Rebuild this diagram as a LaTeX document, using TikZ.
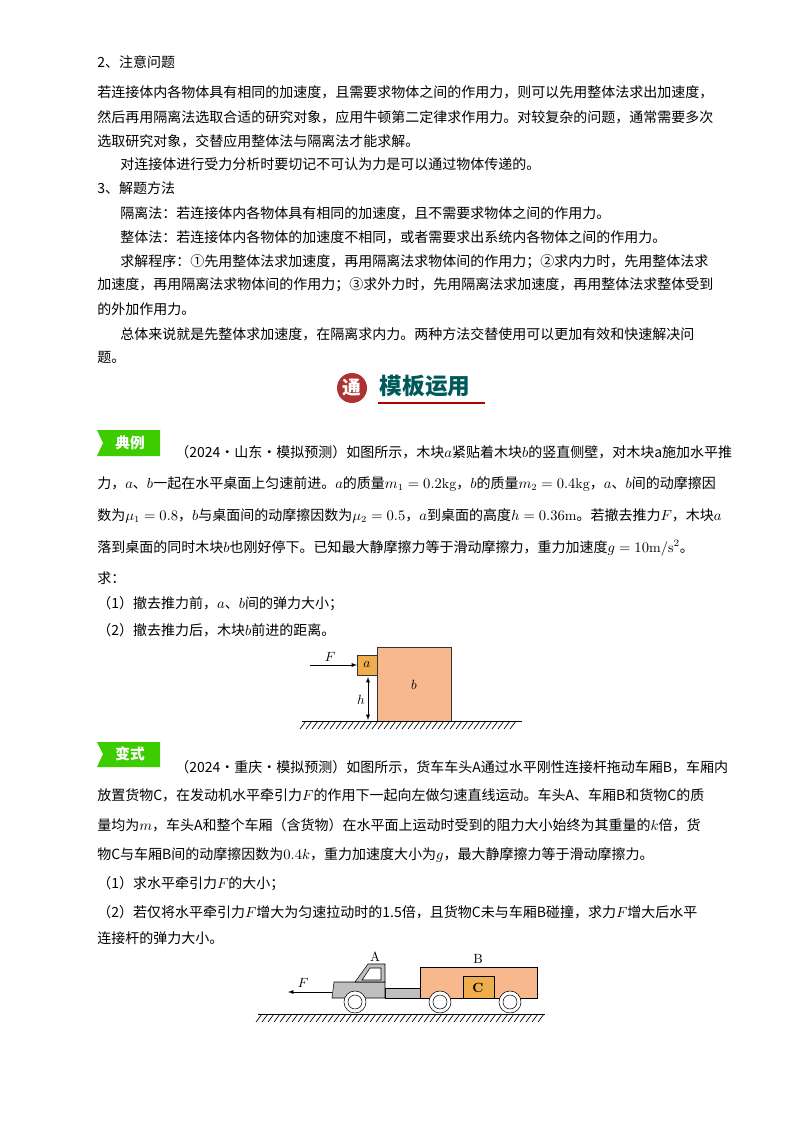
\documentclass[tikz,border=0pt]{standalone}
\usepackage{fontspec}
\newfontfamily\cjk{Noto Sans CJK SC}
\definecolor{peach}{HTML}{F6B88C}
\definecolor{gold}{HTML}{EFAE4E}
\begin{document}
\begin{tikzpicture}[x=0.75pt,y=-0.75pt,
  txt/.style={anchor=west,inner sep=0pt,font=\cjk\fontsize{10.5}{12}\selectfont},
  badge/.style={fill=green!60!lime!80!black,draw=none},
  hatch/.style={line width=0.5pt}]
\useasboundingbox (0,0) rectangle (800,1134);
\fill[white] (0,0) rectangle (800,1134);
\node[txt] (l1) at (97,62) {2、注意问题};
\node[txt] (l2) at (97,92) {若连接体内各物体具有相同的加速度，且需要求物体之间的作用力，则可以先用整体法求出加速度，};
\node[txt] (l3) at (97,117) {然后再用隔离法选取合适的研究对象，应用牛顿第二定律求作用力。对较复杂的问题，通常需要多次};
\node[txt] (l4) at (97,141) {选取研究对象，交替应用整体法与隔离法才能求解。};
\node[txt] (l5) at (120,164) {对连接体进行受力分析时要切记不可认为力是可以通过物体传递的。};
\node[txt] (l6) at (97,188) {3、解题方法};
\node[txt] (l7) at (120,213) {隔离法：若连接体内各物体具有相同的加速度，且不需要求物体之间的作用力。};
\node[txt] (l8) at (120,237) {整体法：若连接体内各物体的加速度不相同，或者需要求出系统内各物体之间的作用力。};
\node[txt] (l9) at (120,262) {求解程序：①先用整体法求加速度，再用隔离法求物体间的作用力；②求内力时，先用整体法求};
\node[txt] (l10) at (97,285) {加速度，再用隔离法求物体间的作用力；③求外力时，先用隔离法求加速度，再用整体法求整体受到};
\node[txt] (l11) at (97,309) {的外加作用力。};
\node[txt] (l12) at (120,334) {总体来说就是先整体求加速度，在隔离求内力。两种方法交替使用可以更加有效和快速解决问};
\node[txt] (l13) at (97,357) {题。};
% banner
\fill[red!60!black!80] (352,388) circle (15);
\node[font=\cjk\bfseries\fontsize{14}{14}\selectfont,text=white] (tong) at (352,388) {通};
\node[anchor=west,font=\cjk\bfseries\fontsize{17}{17}\selectfont,text=teal!70!black] (mb) at (375,386) {模板运用};
\draw[red!70!black,line width=1pt] (378,403) -- (485,403);
% badge 1
\fill[badge] (97,430) -- (160,430) -- (160,456) -- (97,456) -- (103,443) -- cycle;
\node[font=\cjk\bfseries\fontsize{11}{11}\selectfont,text=white] (dl) at (130,443) {典例};
\node[txt] (p1) at (175,452) {（2024·山东·模拟预测）如图所示，木块$a$紧贴着木块$b$的竖直侧壁，对木块a施加水平推};
\node[txt] (p2) at (97,484) {力，$a$、$b$一起在水平桌面上匀速前进。$a$的质量$m_1=0.2\mathrm{kg}$，$b$的质量$m_2=0.4\mathrm{kg}$，$a$、$b$间的动摩擦因};
\node[txt] (p3) at (97,516) {数为$\mu_1=0.8$，$b$与桌面间的动摩擦因数为$\mu_2=0.5$，$a$到桌面的高度$h=0.36\mathrm{m}$。若撤去推力$F$，木块$a$};
\node[txt] (p4) at (97,548) {落到桌面的同时木块$b$也刚好停下。已知最大静摩擦力等于滑动摩擦力，重力加速度$g=10\mathrm{m/s^2}$。};
\node[txt] (p5) at (97,578) {求：};
\node[txt] (p6) at (97,604) {（1）撤去推力前，$a$、$b$间的弹力大小；};
\node[txt] (p7) at (97,630) {（2）撤去推力后，木块$b$前进的距离。};
% figure 1
\draw[fill=peach,draw=black!80] (377,647) rectangle (451,721);
\node (b) at (414,685) {$b$};
\draw[fill=gold,draw=black!80] (357,655) rectangle (377,675);
\node (a) at (367,665) {$a$};
\coordinate (fs) at (310,665);
\draw[-latex] (fs) -- (357,665);
\node (F1) at (330,657) {$F$};
\draw[latex-latex] (368,677) -- (368,720);
\node (h) at (361,700) {$h$};
\draw (302,721) -- (522,721);
\foreach \i in {0,...,35} \draw[hatch] (306+6*\i,721) -- (300+6*\i,729);
% badge 2
\fill[badge] (97,742) -- (160,742) -- (160,767) -- (97,767) -- (103,754) -- cycle;
\node[font=\cjk\bfseries\fontsize{11}{11}\selectfont,text=white] (bs) at (130,754) {变式};
\node[txt] (q1) at (175,767) {（2024·重庆·模拟预测）如图所示，货车车头A通过水平刚性连接杆拖动车厢B，车厢内};
\node[txt] (q2) at (97,795) {放置货物C，在发动机水平牵引力$F$的作用下一起向左做匀速直线运动。车头A、车厢B和货物C的质};
\node[txt] (q3) at (97,825) {量均为$m$，车头A和整个车厢（含货物）在水平面上运动时受到的阻力大小始终为其重量的$k$倍，货};
\node[txt] (q4) at (97,855) {物C与车厢B间的动摩擦因数为$0.4k$，重力加速度大小为$g$，最大静摩擦力等于滑动摩擦力。};
\node[txt] (q5) at (97,884) {（1）求水平牵引力$F$的大小；};
\node[txt] (q6) at (97,912) {（2）若仅将水平牵引力$F$增大为匀速拉动时的1.5倍，且货物C未与车厢B碰撞，求力$F$增大后水平};
\node[txt] (q7) at (97,938) {连接杆的弹力大小。};
% figure 2
\draw[fill=black!25] (385,988) rectangle (420,998);
\draw[fill=black!25] (334,982) -- (385,982) -- (385,998) -- (332,998) -- cycle;
\draw[fill=black!25] (355,982) -- (368,964) -- (385,964) -- (385,982) -- cycle;
\draw[fill=white] (362,980) -- (370,968) -- (381,968) -- (381,980) -- cycle;
\draw[fill=peach] (420,967) rectangle (537,998);
\draw[fill=gold] (463,976) rectangle (494,998);
\node[font=\bfseries] (C) at (478,988) {C};
\node (A) at (375,957) {A};
\node (B) at (478,959) {B};
\foreach \cx in {355,440,510} {\draw[fill=white] (\cx,1002) circle (11); \draw (\cx,1002) circle (7);}
\coordinate (fs2) at (332,992);
\draw[-latex] (fs2) -- (288,992);
\node (F2) at (303,983) {$F$};
\draw (258,1014) -- (545,1014);
\foreach \i in {0,...,47} \draw[hatch] (262+6*\i,1014) -- (256+6*\i,1022);
\end{tikzpicture}
\end{document}
